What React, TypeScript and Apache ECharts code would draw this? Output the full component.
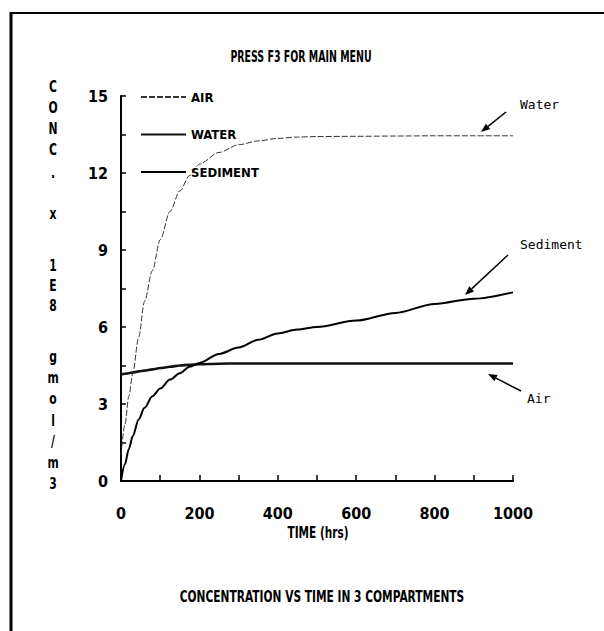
import React, { useEffect, useRef } from "react";
import * as echarts from "echarts";

// ---- data ----
const times = [0, 10, 20, 30, 45, 60, 80, 100, 125, 150, 175, 200, 250, 300, 350, 400, 450, 500, 600, 700, 800, 900, 1000];
// thin dashed curve (legend "AIR", annotated "Water")
const airLegendValues = [1.0, 2.2, 3.3, 4.2, 5.6, 7.0, 8.2, 9.4, 10.5, 11.3, 11.9, 12.35, 12.8, 13.1, 13.25, 13.35, 13.4, 13.42, 13.43, 13.44, 13.45, 13.45, 13.45];
// thick wavy line (legend "WATER", annotated "Air")
const waterLegendValues = [4.15, 4.18, 4.2, 4.23, 4.27, 4.3, 4.35, 4.4, 4.45, 4.5, 4.53, 4.55, 4.57, 4.58, 4.58, 4.58, 4.58, 4.58, 4.58, 4.58, 4.58, 4.58, 4.58];
// medium solid curve (legend "SEDIMENT", annotated "Sediment")
const sedimentValues = [0, 0.65, 1.25, 1.75, 2.4, 2.85, 3.3, 3.6, 3.95, 4.2, 4.45, 4.6, 4.95, 5.2, 5.5, 5.75, 5.9, 6.0, 6.25, 6.55, 6.9, 7.1, 7.35];

const legendNames = ["AIR", "WATER", "SEDIMENT"];
const yTitleChars = ["C", "O", "N", "C", ".", "x", "1", "E", "8", "g", "m", "o", "l", "/", "m", "3"];
const yTitleRows = [86, 107, 128, 149, 172, 213, 265, 285, 305, 356, 377, 398, 420, 441, 462, 483];

const FONT = "'DejaVu Sans Condensed', 'DejaVu Sans', sans-serif";
const MONO = "'DejaVu Sans Mono', 'Liberation Mono', monospace";

function pairs(vals: number[]) {
  return times.map((t, i) => [t, vals[i]]);
}

function arrow(x1: number, y1: number, x2: number, y2: number) {
  const ang = Math.atan2(y2 - y1, x2 - x1);
  const len = 9;
  const w = 3.5;
  const bx = x2 - len * Math.cos(ang);
  const by = y2 - len * Math.sin(ang);
  const px = -Math.sin(ang) * w;
  const py = Math.cos(ang) * w;
  return [
    { type: "line", shape: { x1, y1, x2: bx, y2: by }, style: { stroke: "#000", lineWidth: 1.5 }, silent: true },
    {
      type: "polygon",
      shape: { points: [[x2, y2], [bx + px, by + py], [bx - px, by - py]] },
      style: { fill: "#000" },
      silent: true,
    },
  ];
}

function narrowText(text: string, x: number, y: number, size: number, sx: number) {
  return {
    type: "text",
    x,
    y,
    scaleX: sx,
    style: { text, font: `bold ${size}px ${FONT}`, fill: "#000", align: "center", verticalAlign: "middle" },
    silent: true,
  };
}

export default function App() {
  const ref = useRef<HTMLDivElement>(null);
  useEffect(() => {
    if (!ref.current) return;
    const chart = echarts.init(ref.current, undefined, { renderer: "svg" });
    const graphics: any[] = [
      { type: "line", shape: { x1: 10, y1: 13, x2: 604, y2: 13 }, style: { stroke: "#000", lineWidth: 2 }, silent: true },
      { type: "line", shape: { x1: 11, y1: 12, x2: 11, y2: 631 }, style: { stroke: "#000", lineWidth: 3 }, silent: true },
      narrowText("PRESS F3 FOR MAIN MENU", 301, 57, 15, 0.7),
      narrowText("CONCENTRATION VS TIME IN 3 COMPARTMENTS", 322, 596, 16, 0.74),
      narrowText("TIME (hrs)", 318, 533, 15, 0.78),
      { type: "text", x: 520, y: 104, style: { text: "Water", font: `13px ${MONO}`, fill: "#000", align: "left", verticalAlign: "middle" } },
      { type: "text", x: 520, y: 244, style: { text: "Sediment", font: `13px ${MONO}`, fill: "#000", align: "left", verticalAlign: "middle" } },
      { type: "text", x: 527, y: 398, style: { text: "Air", font: `13px ${MONO}`, fill: "#000", align: "left", verticalAlign: "middle" } },
      ...arrow(506, 112, 481, 132),
      ...arrow(508, 255, 465, 295),
      ...arrow(521, 391, 488, 374),
    ];
    yTitleChars.forEach((c, i) => {
      graphics.push(narrowText(c, 53, yTitleRows[i], 15, 0.8));
    });

    chart.setOption({
      animation: false,
      backgroundColor: "#fff",
      grid: { left: 121, right: 91, top: 96, bottom: 150, containLabel: false },
      legend: {
        data: legendNames,
        orient: "vertical",
        left: 140,
        top: 90,
        padding: 0,
        itemWidth: 45,
        itemHeight: 14,
        itemGap: 23.5,
        itemStyle: { opacity: 0, borderWidth: 0 },
        textStyle: { fontFamily: FONT, fontWeight: "bold", fontSize: 13, color: "#000", lineHeight: 14 },
        selectedMode: false,
      },
      xAxis: {
        type: "value",
        min: 0,
        max: 1000,
        interval: 100,
        axisLine: { show: true, lineStyle: { color: "#000", width: 2 } },
        axisTick: { show: true, inside: true, length: 6, lineStyle: { color: "#000", width: 1.5 } },
        axisLabel: {
          margin: 24,
          fontFamily: FONT,
          fontWeight: "bold",
          fontSize: 16,
          color: "#000",
          formatter: (v: number) => (v % 200 === 0 ? String(v) : ""),
        },
        splitLine: { show: false },
      },
      yAxis: {
        type: "value",
        min: 0,
        max: 15,
        interval: 1.5,
        axisLine: { show: true, lineStyle: { color: "#000", width: 2 } },
        axisTick: { show: true, inside: true, length: 5, lineStyle: { color: "#000", width: 1.5 } },
        axisLabel: {
          margin: 13,
          fontFamily: FONT,
          fontWeight: "bold",
          fontSize: 16,
          color: "#000",
          formatter: (v: number) => (Math.abs(v % 3) < 1e-6 ? String(Math.round(v)) : ""),
        },
        splitLine: { show: false },
      },
      series: [
        {
          name: "AIR",
          type: "line",
          data: pairs(airLegendValues),
          symbol: "none",
          smooth: 0.3,
          smoothMonotone: "x",
          lineStyle: { color: "#333", width: 1, type: [6, 2] },
        },
        {
          name: "WATER",
          type: "line",
          data: pairs(waterLegendValues),
          symbol: "none",
          smooth: 0.3,
          smoothMonotone: "x",
          lineStyle: { color: "#111", width: 2.6 },
        },
        {
          name: "SEDIMENT",
          type: "line",
          data: pairs(sedimentValues),
          symbol: "none",
          smooth: 0.3,
          smoothMonotone: "x",
          lineStyle: { color: "#000", width: 2 },
        },
      ],
      graphic: graphics,
    });
    return () => chart.dispose();
  }, []);
  return <div ref={ref} style={{ position: "absolute", left: 0, top: 0, width: 604, height: 631 }} />;
}
